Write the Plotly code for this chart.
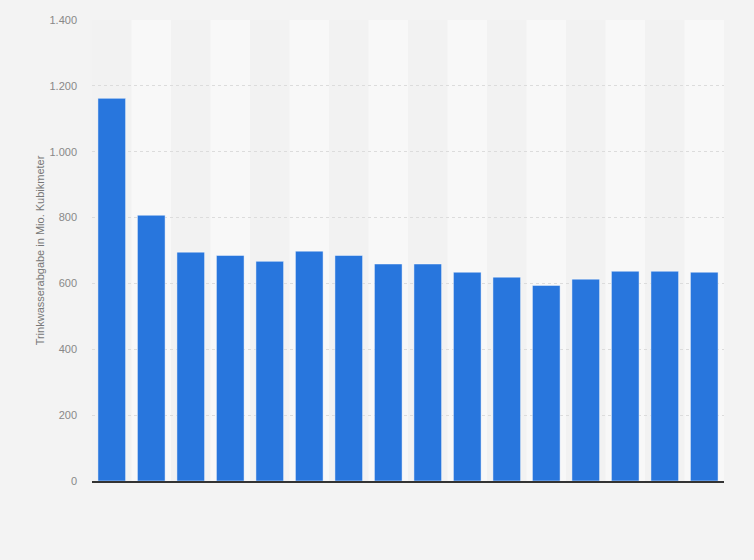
import plotly.graph_objects as go

# Data
CATEGORIES = [str(i) for i in range(1, 17)]
VALUES = [1162, 807, 695, 685, 667, 698, 685, 659, 659, 634, 619, 594, 613, 637, 637, 634]
Y_TICKS = [0, 200, 400, 600, 800, 1000, 1200, 1400]
Y_TITLE = "Trinkwasserabgabe in Mio. Kubikmeter"

BAR_COLOR = "#2876dd"
PAGE_BG = "#f3f3f3"
PLOT_BG = "#f8f8f8"
BAND_BG = "#f2f2f2"


def band_shapes(n):
    """Alternating column bands behind the bars"""
    shapes = []
    for i in range(0, n, 2):
        shapes.append(dict(
            type="rect", xref="x", yref="y domain",
            x0=i - 0.5, x1=i + 0.5, y0=0, y1=1,
            fillcolor=BAND_BG, line_width=0, layer="below",
        ))
    return shapes


fig = go.Figure(
    go.Bar(
        x=CATEGORIES,
        y=VALUES,
        marker=dict(color=BAR_COLOR, line=dict(color="rgba(255,255,255,0.45)", width=1)),
        hovertemplate="%{y}<extra></extra>",
    )
)

fig.update_layout(
    width=754,
    height=560,
    paper_bgcolor=PAGE_BG,
    plot_bgcolor=PLOT_BG,
    separators=",.",
    bargap=0.3,
    showlegend=False,
    margin=dict(l=92, r=30, t=20, b=79),
    font=dict(family="Liberation Sans, Arial, sans-serif", size=11, color="#888888"),
    shapes=band_shapes(len(CATEGORIES)),
)

fig.update_xaxes(
    type="category",
    showticklabels=False,
    showgrid=False,
    showline=True,
    linecolor="#333333",
    linewidth=1.5,
    ticks="",
    range=[-0.5, len(CATEGORIES) - 0.5],
)

fig.update_yaxes(
    range=[0, 1400],
    tickvals=Y_TICKS,
    tickformat=",d",
    showgrid=True,
    gridcolor="#dcdcdc",
    griddash="dot",
    gridwidth=1,
    zeroline=False,
    ticks="",
    ticklabelstandoff=14,
    title=dict(text=Y_TITLE, font=dict(size=11, color="#777777"), standoff=2),
)

# drop the default page margin so the figure sits flush in the window
fig.write_html(
    "out.html",
    config={"displayModeBar": False},
    post_script="document.body.style.margin='0';",
)
